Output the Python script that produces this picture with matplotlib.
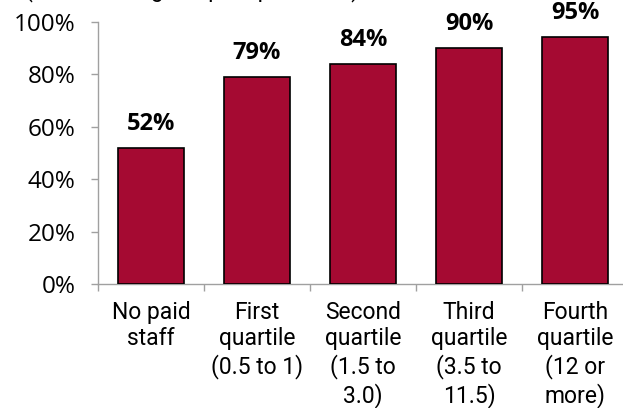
import matplotlib
matplotlib.use("Agg")
import matplotlib.pyplot as plt
from matplotlib.ticker import FixedLocator, NullFormatter

categories = ["No paid\nstaff", "First\nquartile\n(0.5 to 1)", "Second\nquartile\n(1.5 to\n3.0)",
              "Third\nquartile\n(3.5 to\n11.5)", "Fourth\nquartile\n(12 or\nmore)"]
values = [52, 79, 84, 90, 94.4]
value_labels = ["52%", "79%", "84%", "90%", "95%"]
yticks = [0, 20, 40, 60, 80, 100]
ytick_labels = ["0%", "20%", "40%", "60%", "80%", "100%"]

plt.rcParams['font.family'] = ['Roboto', 'DejaVu Sans']
num_font = ['Open Sans', 'DejaVu Sans']
W, H = 623, 408
fig = plt.figure(figsize=(W/100, H/100), dpi=100)
left, right = 98, 628
bottom, top = 284, 22
ax = fig.add_axes([left/W, 1 - bottom/H, (right-left)/W, (bottom-top)/H])

x = list(range(len(categories)))
ax.bar(x, values, width=0.63, color="#A50A32", edgecolor="black", linewidth=1.2, zorder=3)
for xi, v, lab in zip(x, values, value_labels):
    ax.annotate(lab, (xi, v), xytext=(0, 8.5), textcoords="offset points",
                ha="center", va="bottom", fontsize=17, fontweight="bold", color="black",
                family=num_font)

ax.set_xlim(-0.5, len(categories) - 0.5)
ax.set_ylim(0, 100)
ax.set_yticks(yticks)
ax.set_yticklabels(ytick_labels, fontsize=17.5, family=num_font)
ax.set_xticks(x)
ax.set_xticklabels(categories, fontsize=16.5, linespacing=1.2, va="top")
ax.tick_params(axis="x", length=0, pad=12)
ax.xaxis.set_minor_locator(FixedLocator([i - 0.5 for i in range(len(categories) + 1)]))
ax.xaxis.set_minor_formatter(NullFormatter())
ax.tick_params(axis="x", which="minor", length=5, color="#A0A0A0", width=1)
ax.tick_params(axis="y", length=5, color="#A0A0A0", width=1, pad=11)
for s in ["top", "right"]:
    ax.spines[s].set_visible(False)
for s in ["left", "bottom"]:
    ax.spines[s].set_color("#A0A0A0")
    ax.spines[s].set_linewidth(1)

fig.text(25/W, 1 + 4/H, "(in FTEs, range of paid positions)", fontsize=16.5, ha="left", va="baseline")

fig.savefig("out.png", dpi=100)
